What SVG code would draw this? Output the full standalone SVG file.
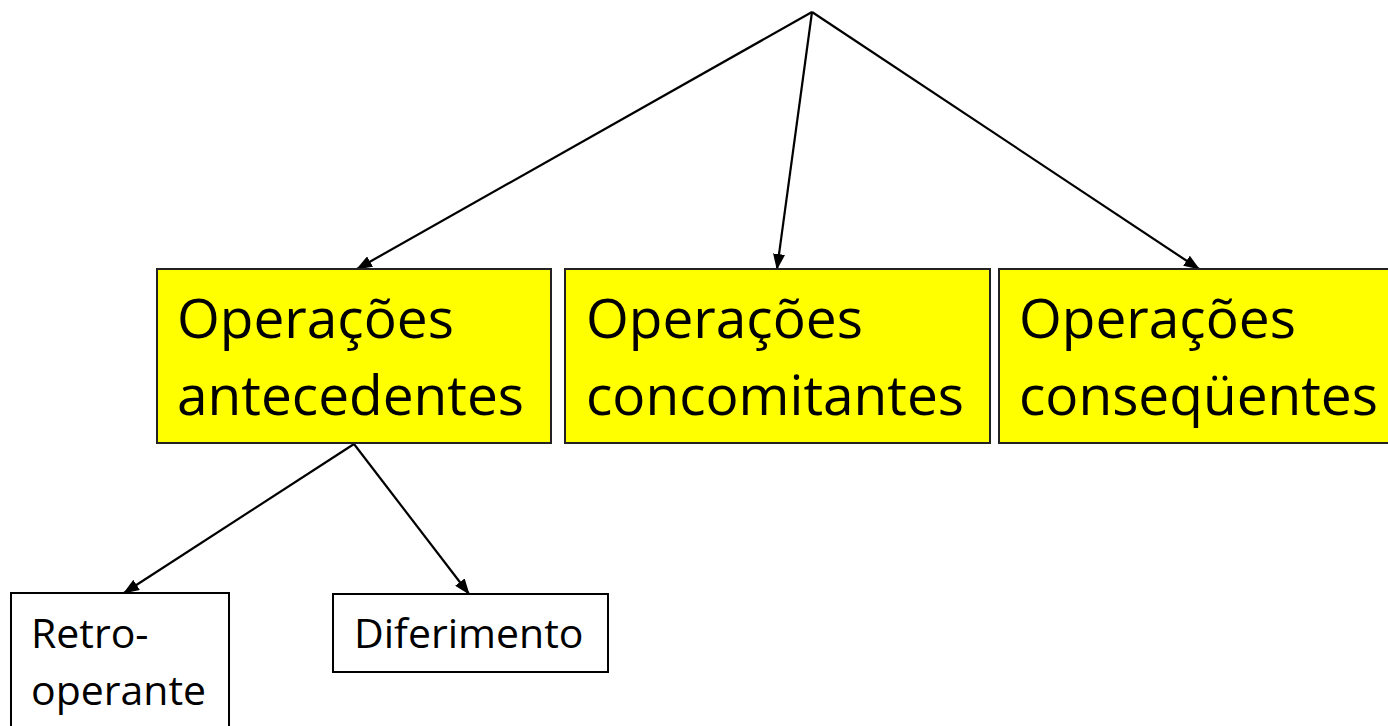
<svg xmlns="http://www.w3.org/2000/svg" width="1388" height="726" viewBox="0 0 1388 726">
<defs>
<marker id="ah" markerWidth="16" markerHeight="12" refX="15" refY="6" orient="auto" markerUnits="userSpaceOnUse">
<path d="M0,0 L16,6 L0,12 Z" fill="#000"/>
</marker>
<style>
.yb{fill:#ffff00;stroke:#222;stroke-width:2}
.wb{fill:#fff;stroke:#000;stroke-width:2}
.big{font-family:"Open Sans","Noto Sans",sans-serif;font-size:55px;fill:#000}
.sm{font-family:"Open Sans","Noto Sans",sans-serif;font-size:41px;fill:#000}
.cn{stroke:#000;stroke-width:2.2;fill:none;marker-end:url(#ah)}
</style>
</defs>
<rect width="1388" height="726" fill="#fff"/>
<g id="connectors">
<line class="cn" x1="812" y1="12" x2="357" y2="269"/>
<line class="cn" x1="812" y1="12" x2="777" y2="269"/>
<line class="cn" x1="812" y1="12" x2="1199" y2="269"/>
<line class="cn" x1="354" y1="444" x2="124" y2="593"/>
<line class="cn" x1="354" y1="444" x2="469" y2="594"/>
</g>
<g id="antecedentes">
<rect class="yb" x="157" y="269" width="394" height="174"/>
<text class="big" x="177" y="338">Operações</text>
<text class="big" x="177" y="415">antecedentes</text>
</g>
<g id="concomitantes">
<rect class="yb" x="565" y="269" width="425" height="174"/>
<text class="big" x="586" y="338">Operações</text>
<text class="big" x="586" y="415">concomitantes</text>
</g>
<g id="consequentes">
<rect class="yb" x="999" y="269" width="420" height="174"/>
<text class="big" x="1019" y="338">Operações</text>
<text class="big" x="1019" y="415">conseqüentes</text>
</g>
<g id="retro">
<rect class="wb" x="11" y="593" width="218" height="160"/>
<text class="sm" x="31" y="648">Retro-</text>
<text class="sm" x="31" y="705">operante</text>
</g>
<g id="diferimento">
<rect class="wb" x="333" y="594" width="275" height="78"/>
<text class="sm" x="354" y="648">Diferimento</text>
</g>
</svg>
